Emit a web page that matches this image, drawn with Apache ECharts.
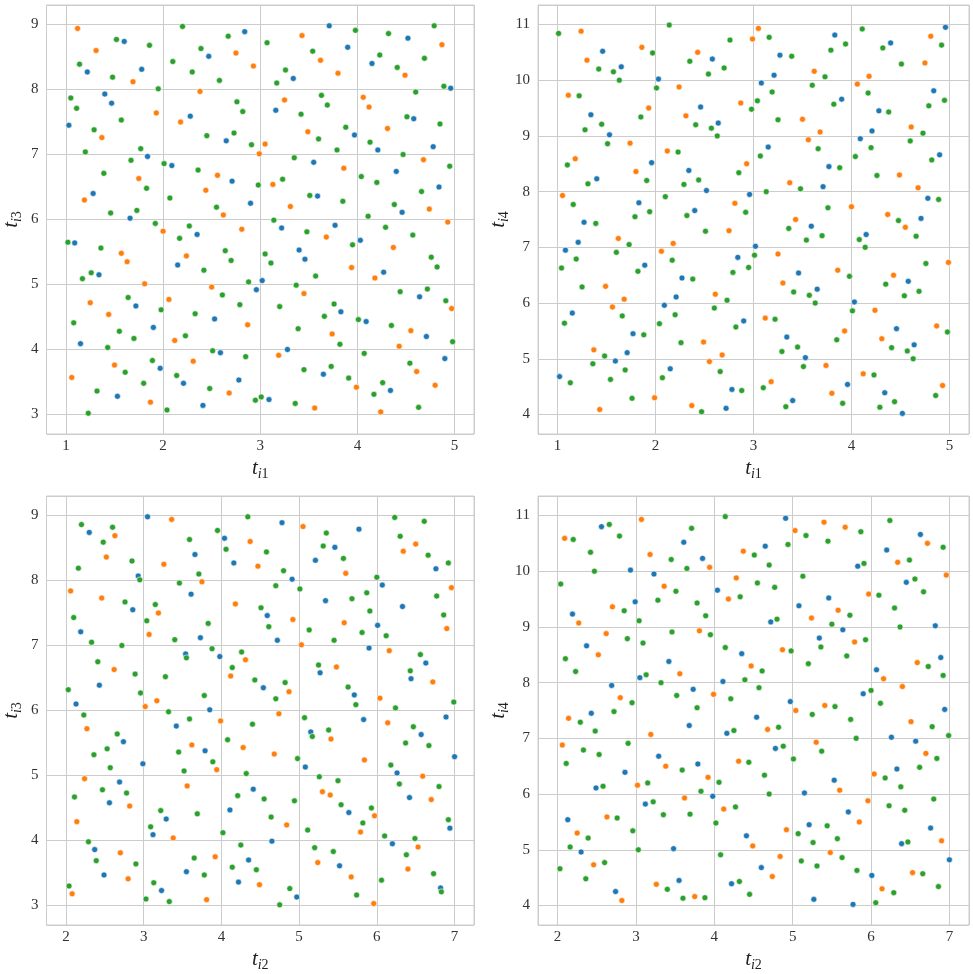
<!DOCTYPE html>
<html>
<head>
<meta charset="utf-8">
<script src="https://cdn.jsdelivr.net/npm/echarts@6/dist/echarts.min.js"></script>
<style>
    html, body { margin: 0; padding: 0; background: #fff; }
    #chart { width: 973px; height: 974px; }
</style>
</head>
<body>
<div id="chart"></div>
<script>
// 各子图的散点数据 (t_i1, t_i2, t_i3, t_i4)，按颜色分组
const p1Blue = [[1.22,8.27],[1.03,7.45],[1.60,8.74],[1.40,7.93],[1.47,7.79],[1.78,8.31],[2.47,8.51],[2.28,7.59],[2.84,8.89],[2.65,7.21],[3.34,8.17],[3.16,7.68],[3.71,8.98],[3.90,8.65],[3.97,7.30],[4.15,8.40],[4.21,7.07],[4.52,8.79],[4.58,7.55],[4.96,8.02],[4.78,7.12],
    [1.84,6.97],[1.28,6.40],[1.66,6.02],[1.09,5.64],[1.34,5.15],[1.72,4.67],[2.09,6.83],[2.35,5.77],[2.15,5.30],[2.71,6.59],[2.90,6.25],[2.96,4.92],[3.02,5.06],[3.55,6.88],[3.22,5.87],[3.40,5.53],[3.46,5.39],[3.59,6.36],[3.77,5.91],[4.03,5.68],[4.27,5.19],[4.40,6.74],[4.46,6.11],[4.84,6.50],[4.64,4.81],
    [1.15,4.09],[1.53,3.28],[1.90,4.34],[1.97,3.71],[2.53,4.47],[2.21,3.48],[2.41,3.14],[2.59,3.95],[2.78,3.53],[3.09,3.23],[3.28,4.00],[3.83,4.58],[3.65,3.62],[4.09,4.43],[4.34,3.37],[4.71,4.20],[4.90,3.86]];
const p1Orange = [[1.12,8.94],[1.31,8.60],[1.37,7.26],[1.69,8.12],[1.93,7.64],[2.38,7.97],[2.18,7.50],[2.75,8.56],[2.93,8.36],[2.99,7.01],[3.05,7.16],[3.25,7.84],[3.43,8.83],[3.62,8.45],[3.49,7.35],[3.80,8.25],[4.06,7.88],[4.12,7.73],[4.31,7.40],[4.49,8.22],[4.87,8.69],
    [1.75,6.63],[1.19,6.30],[1.57,5.48],[1.63,5.35],[1.81,5.01],[1.25,4.72],[2.00,5.82],[2.24,5.44],[2.06,4.77],[2.44,6.45],[2.56,6.68],[2.62,6.07],[2.50,4.96],[2.81,5.85],[3.13,6.54],[3.31,6.20],[3.45,4.86],[3.86,6.79],[3.68,5.73],[3.94,5.26],[4.18,5.10],[4.68,6.92],[4.37,5.57],[4.74,6.16],[4.93,5.96],[4.97,4.63],
    [1.44,4.54],[1.06,3.57],[1.50,3.76],[1.87,3.19],[2.12,4.14],[2.31,3.82],[2.68,3.33],[2.87,4.38],[3.19,3.91],[3.56,3.10],[3.74,4.24],[3.99,3.42],[4.24,3.04],[4.43,4.05],[4.55,4.29],[4.61,3.66],[4.80,3.45]];
const p1Green = [[1.14,8.39],[1.05,7.87],[1.11,7.71],[1.20,7.04],[1.29,7.38],[1.52,8.77],[1.48,8.19],[1.57,7.53],[1.86,8.68],[1.95,8.01],[1.77,7.09],[2.20,8.97],[2.10,8.43],[2.30,8.27],[2.39,8.63],[2.45,7.29],[2.58,8.14],[2.67,8.82],[2.76,7.81],[2.82,7.66],[2.73,7.33],[2.91,7.15],[3.07,8.72],[3.17,8.10],[3.26,8.30],[3.54,8.59],[3.42,7.62],[3.60,7.24],[3.63,7.91],[3.69,7.76],[3.98,8.91],[3.79,7.07],[3.88,7.42],[4.23,8.53],[4.32,8.86],[4.13,7.19],[4.41,8.34],[4.60,7.96],[4.51,7.58],[4.47,7.00],[4.69,8.48],[4.79,8.98],[4.89,8.05],[4.85,7.47],
    [1.67,6.91],[1.39,6.71],[1.83,6.48],[1.46,6.10],[1.73,6.14],[1.92,5.94],[1.02,5.65],[1.36,5.56],[1.26,5.18],[1.17,5.09],[1.64,4.80],[1.98,4.61],[2.01,6.86],[2.07,6.33],[2.17,5.71],[2.27,5.90],[2.42,5.22],[2.36,6.76],[2.55,6.19],[2.64,5.52],[2.70,5.37],[2.61,4.84],[2.79,4.69],[2.88,5.04],[2.98,6.53],[3.35,6.95],[3.23,6.62],[3.14,5.99],[3.05,5.47],[3.11,5.33],[3.37,4.99],[3.20,4.66],[3.51,6.37],[3.48,5.81],[3.57,5.13],[3.85,6.28],[3.95,5.61],[3.76,4.70],[4.04,6.66],[4.20,6.57],[4.11,6.05],[4.29,5.88],[4.38,6.23],[4.57,5.76],[4.66,6.43],[4.95,6.82],[4.76,5.42],[4.82,5.27],[4.44,4.89],[4.72,4.93],[4.91,4.75],
    [1.08,4.41],[1.55,4.28],[1.43,4.03],[1.70,4.17],[1.32,3.36],[1.23,3.02],[1.61,3.65],[1.80,3.48],[1.89,3.83],[2.23,4.21],[2.33,4.55],[2.14,3.60],[2.04,3.07],[2.48,3.40],[2.51,3.98],[2.85,3.89],[2.95,3.22],[3.01,3.27],[3.39,4.32],[3.45,3.69],[3.36,3.17],[3.66,4.51],[3.82,4.08],[3.73,3.74],[3.91,3.56],[4.01,4.46],[4.07,3.94],[4.17,3.31],[4.26,3.49],[4.35,4.37],[4.54,3.79],[4.63,3.11],[4.98,4.12]];

const p2Blue = [[1.34,9.38],[1.46,10.52],[1.65,10.24],[1.53,9.02],[2.03,10.02],[2.58,10.38],[2.46,9.52],[2.64,9.23],[3.08,9.95],[3.21,10.09],[3.27,10.45],[3.15,8.80],[3.83,10.81],[3.90,9.66],[4.28,9.45],[4.09,8.95],[4.21,9.09],[4.40,10.67],[4.96,10.95],[4.84,9.81],[4.90,8.66],
    [1.27,7.45],[1.21,7.09],[1.08,6.95],[1.40,8.23],[1.96,8.52],[1.83,7.80],[1.89,6.68],[2.27,6.45],[2.21,6.11],[2.09,5.96],[2.34,8.38],[2.40,7.66],[2.52,8.02],[2.96,7.95],[2.84,6.82],[3.02,7.02],[3.59,7.38],[3.46,6.54],[3.65,6.25],[3.71,8.09],[3.77,8.45],[4.15,7.23],[4.03,6.02],[4.58,6.39],[4.71,7.52],[4.78,7.88],
    [1.15,5.82],[1.77,5.45],[1.71,5.11],[1.59,4.96],[1.02,4.68],[2.15,4.82],[2.78,4.45],[2.72,4.11],[2.90,5.68],[3.34,5.39],[3.53,5.02],[3.40,4.25],[3.96,4.54],[4.46,5.54],[4.64,5.25],[4.34,4.39],[4.52,4.02]];
const p2Orange = [[1.24,10.88],[1.30,10.36],[1.11,9.73],[1.74,8.87],[1.86,10.59],[1.93,9.50],[2.24,9.88],[2.31,9.36],[2.12,8.73],[2.43,10.50],[2.87,9.59],[2.99,10.74],[3.05,10.93],[3.50,9.30],[3.56,8.93],[3.62,10.16],[3.68,9.07],[4.06,9.93],[4.18,10.07],[4.61,9.16],[4.75,10.31],[4.81,10.79],
    [1.18,8.59],[1.05,7.93],[1.49,6.30],[1.56,5.93],[1.80,8.36],[1.62,7.16],[1.68,6.07],[2.06,6.93],[2.18,7.07],[2.61,6.16],[2.75,7.30],[2.81,7.79],[2.93,8.50],[3.25,6.88],[3.30,6.36],[3.37,8.16],[3.43,7.50],[3.86,6.59],[4.00,7.73],[4.24,5.87],[4.49,8.30],[4.37,7.59],[4.55,7.36],[4.43,6.50],[4.68,8.07],[4.99,6.73],
    [1.37,5.16],[1.43,4.09],[1.99,4.30],[2.37,4.16],[2.49,5.30],[2.55,4.95],[2.68,5.07],[3.12,5.73],[3.18,4.59],[3.74,4.88],[3.80,4.38],[3.93,5.50],[4.31,5.36],[4.12,4.73],[4.87,5.59],[4.93,4.52]];
const p2Green = [[1.01,10.84],[1.22,9.72],[1.28,9.11],[1.42,10.20],[1.57,10.15],[1.63,10.00],[1.45,9.21],[1.51,8.86],[1.97,10.49],[1.85,9.34],[2.01,9.86],[2.14,10.99],[2.41,9.20],[2.23,8.71],[2.35,10.34],[2.54,10.11],[2.70,10.22],[2.57,9.14],[2.63,9.00],[2.76,10.72],[2.98,9.48],[3.16,10.77],[3.04,9.63],[3.19,9.79],[3.39,10.43],[3.25,9.29],[3.07,8.64],[3.60,9.91],[3.73,10.06],[3.66,8.77],[3.79,10.54],[3.94,10.65],[3.82,9.57],[4.11,10.92],[4.17,9.77],[4.38,9.43],[4.20,8.79],[4.32,10.58],[4.51,10.29],[4.60,8.91],[4.73,9.05],[4.92,10.63],[4.79,9.54],[4.95,9.64],
    [1.10,8.48],[1.16,7.77],[1.19,6.79],[1.04,6.63],[1.25,6.29],[1.31,8.14],[1.39,7.43],[1.91,8.20],[1.79,7.55],[1.94,7.64],[1.73,7.05],[1.60,6.91],[1.82,6.57],[2.10,7.91],[2.17,6.77],[2.38,6.43],[2.29,8.13],[2.44,8.21],[2.32,7.57],[2.51,7.29],[2.60,5.91],[2.73,6.05],[2.85,8.34],[2.92,7.63],[2.79,6.55],[2.95,6.64],[3.01,6.86],[3.13,8.00],[3.48,8.05],[3.36,7.34],[3.54,7.13],[3.41,6.20],[3.57,6.14],[3.63,6.00],[3.70,7.21],[3.76,7.71],[3.88,8.43],[3.98,6.48],[4.04,8.63],[4.08,7.14],[4.14,7.00],[4.26,8.29],[4.48,7.48],[4.35,6.34],[4.54,6.13],[4.69,6.21],[4.66,7.20],[4.89,7.86],[4.76,6.71],[4.82,8.57],
    [1.07,5.64],[1.66,5.77],[1.88,5.43],[1.48,5.05],[1.36,4.91],[1.69,4.80],[1.13,4.57],[1.54,4.63],[1.76,4.29],[2.04,5.63],[2.20,5.79],[2.26,5.29],[2.07,4.66],[2.47,4.05],[2.66,4.77],[2.88,4.43],[2.82,5.57],[3.22,5.71],[3.29,5.13],[3.45,5.21],[3.51,4.86],[3.10,4.48],[3.33,4.14],[3.91,4.20],[3.85,5.34],[4.01,5.86],[4.41,5.20],[4.57,5.14],[4.63,5.00],[4.23,4.71],[4.44,4.23],[4.29,4.13],[4.98,5.48],[4.86,4.34]];

const p3Blue = [[2.19,7.21],[2.30,8.74],[2.86,7.55],[2.93,8.07],[3.05,8.98],[3.66,8.40],[3.61,7.79],[3.73,7.12],[4.04,8.65],[4.16,8.27],[4.59,7.46],[4.72,7.08],[4.78,8.89],[4.91,8.02],[5.21,8.31],[5.46,8.51],[5.34,7.69],[5.77,8.79],[6.07,7.93],[6.01,7.31],[6.33,7.60],[6.76,8.18],
    [2.13,6.10],[2.43,6.39],[2.74,5.52],[2.99,5.18],[2.69,4.90],[3.54,6.87],[3.42,5.76],[3.85,6.01],[3.98,6.83],[3.79,5.38],[4.54,6.35],[4.41,4.79],[5.15,5.67],[5.08,5.13],[5.27,6.58],[5.71,6.24],[5.83,5.86],[5.90,6.96],[6.44,6.49],[6.63,6.73],[6.57,5.63],[6.89,5.90],[7.00,5.29],[6.26,5.04],[6.42,4.66],
    [2.56,4.58],[2.37,3.86],[2.49,3.47],[3.12,4.09],[3.29,4.33],[3.55,3.52],[3.23,3.23],[4.11,4.47],[4.35,3.70],[4.22,3.36],[4.65,3.99],[4.97,3.13],[5.52,3.61],[5.64,4.43],[6.20,3.95],[6.82,3.27],[6.94,4.19]];
const p3Orange = [[2.06,7.84],[2.63,8.69],[2.52,8.36],[2.46,7.73],[3.07,7.17],[3.19,7.50],[3.26,8.25],[3.36,8.94],[3.75,7.98],[4.18,7.64],[4.37,8.60],[4.47,8.22],[4.92,7.40],[5.05,8.83],[5.60,8.11],[5.58,7.35],[6.34,8.45],[6.50,8.56],[6.96,7.89],[6.90,7.26],
    [2.27,5.72],[2.62,6.63],[3.02,6.06],[2.24,4.95],[3.17,6.15],[3.62,5.47],[3.94,5.09],[3.56,4.84],[3.99,5.84],[4.12,6.53],[4.31,6.78],[4.28,5.43],[4.87,6.29],[4.74,5.95],[4.68,5.33],[5.03,7.01],[5.48,6.67],[5.41,5.56],[5.30,4.75],[5.40,4.70],[5.84,5.24],[6.16,6.92],[6.04,6.19],[6.14,5.81],[6.72,6.44],[6.59,4.99],
    [2.82,4.53],[2.14,4.29],[2.70,3.81],[2.80,3.41],[2.08,3.18],[3.38,4.04],[3.92,3.75],[3.81,3.09],[4.49,3.32],[4.84,4.24],[5.24,3.66],[5.67,3.44],[5.79,4.13],[5.97,4.38],[5.96,3.03],[6.70,4.63],[6.53,3.90],[6.40,3.56]];
const p3Green = [[2.10,7.43],[2.33,7.05],[2.16,8.19],[2.20,8.86],[2.48,8.59],[2.60,8.82],[2.76,7.67],[2.85,8.30],[2.95,8.01],[3.04,7.38],[3.15,7.63],[3.40,7.09],[3.46,7.96],[3.59,8.63],[3.71,8.10],[3.83,7.34],[3.95,8.77],[4.06,8.48],[4.34,8.98],[4.58,8.44],[4.51,7.58],[4.61,7.29],[4.80,8.15],[4.70,7.92],[5.01,7.87],[5.13,7.24],[5.31,8.53],[5.35,8.73],[5.57,8.34],[5.68,7.72],[5.45,7.08],[5.87,7.81],[5.91,7.53],[5.81,7.20],[6.00,8.05],[6.12,7.15],[6.23,8.97],[6.30,8.68],[6.61,8.91],[6.66,8.39],[6.92,8.27],[6.77,7.76],[6.86,7.47],
    [2.72,7.00],[2.03,6.32],[2.23,5.93],[2.41,6.75],[2.89,6.56],[2.96,6.27],[2.36,5.32],[2.53,5.41],[2.66,5.64],[2.57,5.12],[2.11,4.67],[2.47,4.78],[2.78,4.73],[3.55,6.81],[3.28,6.52],[3.32,5.98],[3.59,5.87],[3.78,6.23],[3.88,6.95],[3.45,5.36],[3.52,5.07],[3.89,5.21],[4.08,5.55],[4.14,6.66],[4.26,6.90],[4.43,6.47],[4.40,5.79],[4.32,5.03],[4.21,4.69],[4.55,4.64],[4.70,6.18],[4.82,6.43],[4.98,5.26],[5.07,5.89],[5.17,5.60],[5.26,4.98],[5.25,6.70],[5.38,5.70],[5.50,4.92],[5.63,6.36],[5.73,6.09],[6.24,6.04],[6.43,6.61],[6.56,6.86],[6.47,5.75],[6.37,5.50],[6.67,5.46],[6.99,6.13],[6.18,5.16],[6.29,4.87],[6.80,4.83],
    [2.29,3.98],[2.39,3.69],[2.90,3.64],[2.04,3.30],[3.09,4.21],[3.22,4.46],[3.69,4.41],[3.65,3.73],[3.78,3.47],[3.13,3.35],[3.03,3.10],[3.33,3.06],[4.02,4.12],[4.25,3.93],[4.14,3.59],[4.45,3.55],[4.64,4.36],[4.94,4.61],[4.88,3.26],[4.75,3.01],[5.11,4.16],[5.20,3.89],[5.44,3.83],[5.74,3.16],[5.54,4.55],[5.82,4.27],[5.93,4.50],[6.10,4.07],[6.06,3.39],[6.38,3.78],[6.49,4.03],[6.73,3.49],[6.83,3.21],[6.92,4.32]];

const p4Blue = [[2.19,9.23],[2.56,10.80],[2.93,10.02],[2.99,9.45],[3.23,9.95],[3.61,10.52],[3.85,10.23],[4.04,9.66],[4.65,10.45],[4.72,9.09],[4.91,10.95],[5.08,9.38],[5.46,9.52],[5.64,8.95],[5.34,8.80],[5.83,10.09],[6.20,10.38],[6.45,9.80],[6.63,10.66],[6.82,9.02],
    [2.37,8.66],[2.69,7.95],[2.43,7.45],[2.86,6.39],[2.49,6.11],[3.05,8.09],[3.42,8.38],[3.73,7.88],[3.68,7.23],[3.29,6.68],[3.79,6.54],[3.98,5.96],[4.11,8.02],[4.35,8.52],[4.54,7.38],[4.16,7.09],[4.78,6.82],[4.97,7.66],[5.15,6.02],[5.53,6.25],[5.90,7.80],[6.07,8.23],[6.26,7.02],[6.33,6.45],[6.89,8.45],[6.94,7.52],[6.57,6.95],
    [3.12,5.82],[2.13,5.54],[2.30,4.96],[2.74,4.25],[3.48,5.02],[3.55,4.45],[4.41,5.25],[4.60,4.68],[4.22,4.39],[5.21,5.45],[5.71,5.68],[6.01,4.54],[5.27,4.11],[5.77,4.02],[6.39,5.11],[6.76,5.39],[7.00,4.82]];
const p4Orange = [[2.09,10.59],[2.27,9.07],[2.70,9.36],[2.62,8.88],[3.07,10.93],[3.18,10.30],[3.36,9.73],[3.94,10.07],[3.81,8.93],[4.18,9.50],[4.28,9.88],[4.37,10.36],[5.03,10.73],[5.24,9.16],[5.40,10.88],[5.67,10.79],[5.58,9.30],[5.79,8.73],[5.97,9.59],[6.34,10.16],[6.72,10.50],[6.96,9.93],
    [2.52,8.50],[2.80,7.73],[2.14,7.36],[2.06,6.88],[3.02,6.16],[3.56,8.16],[3.19,7.07],[3.38,6.50],[3.92,6.30],[3.62,5.93],[3.99,7.79],[4.47,8.30],[4.68,7.16],[4.31,6.59],[4.87,8.59],[5.04,7.50],[5.41,7.59],[5.30,6.93],[5.60,6.07],[6.16,8.07],[6.40,7.93],[6.04,6.36],[6.59,8.36],[6.51,7.30],[6.70,6.73],
    [4.12,5.73],[2.63,5.59],[2.25,5.30],[2.46,4.73],[2.82,4.09],[3.26,4.38],[3.75,4.16],[4.49,5.07],[4.74,4.52],[4.84,4.88],[4.92,5.36],[5.48,4.95],[5.85,5.50],[5.96,5.88],[6.14,4.30],[6.90,5.16],[6.53,4.59]];
const p4Green = [[2.20,10.57],[2.04,9.77],[2.42,10.34],[2.47,10.00],[2.66,10.84],[2.79,10.63],[2.85,9.29],[2.89,8.79],[3.04,9.11],[3.09,8.71],[3.28,9.48],[3.45,10.21],[3.51,9.64],[3.46,8.91],[3.71,10.77],[3.65,10.05],[3.78,9.43],[3.89,9.20],[3.95,8.86],[4.14,10.98],[4.33,9.54],[4.51,10.29],[4.70,10.11],[4.55,9.79],[4.77,9.71],[4.80,9.14],[4.94,10.48],[5.17,10.64],[5.13,9.91],[5.45,10.54],[5.73,9.21],[5.50,9.05],[5.93,8.77],[5.87,10.71],[5.91,10.14],[6.10,9.57],[6.24,10.91],[6.49,10.20],[6.56,9.86],[6.30,9.34],[6.37,9.00],[6.67,9.63],[6.92,10.43],
    [2.10,8.43],[2.23,8.20],[2.72,7.48],[2.95,7.64],[2.29,7.29],[2.48,7.13],[2.11,6.55],[2.33,6.79],[2.53,6.71],[2.90,6.91],[2.58,6.14],[3.13,8.14],[3.32,8.00],[3.52,7.77],[3.78,7.55],[3.59,6.43],[3.83,6.05],[3.15,6.20],[4.21,7.71],[4.14,8.63],[4.39,8.05],[4.61,8.21],[4.57,7.91],[4.82,7.20],[4.25,7.14],[4.44,6.57],[4.64,6.34],[4.70,6.00],[4.06,6.21],[4.88,6.86],[4.98,8.57],[5.01,6.63],[5.20,8.34],[5.36,8.64],[5.25,7.43],[5.54,7.57],[5.37,6.77],[5.69,8.48],[5.74,7.34],[5.81,7.00],[6.00,7.86],[6.12,7.63],[6.18,6.29],[6.38,6.13],[6.73,8.29],[6.92,8.13],[6.78,7.21],[6.99,7.05],[6.62,6.48],[6.84,6.64],
    [3.22,5.86],[3.35,5.63],[3.69,5.64],[4.27,5.77],[4.02,5.48],[2.76,5.57],[2.39,5.21],[2.16,5.05],[2.96,5.34],[3.03,5.00],[2.03,4.66],[2.60,4.77],[2.36,4.48],[3.40,4.29],[3.60,4.13],[3.88,4.14],[4.08,4.91],[4.32,4.43],[4.45,4.20],[5.07,5.29],[5.26,5.13],[5.11,4.80],[5.31,4.71],[5.44,5.43],[5.57,5.20],[5.63,4.86],[5.82,4.63],[6.06,4.05],[6.29,4.23],[6.23,5.79],[6.43,5.71],[6.47,5.14],[6.80,5.91],[6.66,4.57],[6.86,4.34]];

// 坐标轴名称 (下标) 与范围
const xNames = ['i1', 'i1', 'i2', 'i2'];
const yNames = ['i3', 'i4', 'i3', 'i4'];
const xRanges = [[0.8, 5.2], [0.8, 5.2], [1.75, 7.25], [1.75, 7.25]];
const yRanges = [[2.7, 9.3], [3.65, 11.35], [2.7, 9.3], [3.65, 11.35]];

const COLORS = ['#1f77b4', '#ff7f0e', '#2ca02c'];
const GRID_COLOR = '#cccccc';
const FONT = 'Liberation Serif, DejaVu Serif, serif';

const panels = [
    [p1Blue, p1Orange, p1Green],
    [p2Blue, p2Orange, p2Green],
    [p3Blue, p3Orange, p3Green],
    [p4Blue, p4Orange, p4Green]
];

// 子图位置 (像素)
const grids = [
    { left: 42, top: 5, width: 432, height: 429 },
    { left: 538, top: 5, width: 431, height: 429 },
    { left: 42, top: 496, width: 432, height: 429 },
    { left: 538, top: 496, width: 431, height: 429 }
];

function axisName(sub) {
    return '{t|t}{si|' + sub[0] + '}{sn|' + sub.slice(1) + '}';
}

const nameRich = {
    t: { fontFamily: FONT, fontStyle: 'italic', fontSize: 21, color: '#222', lineHeight: 26, verticalAlign: 'middle' },
    si: { fontFamily: FONT, fontStyle: 'italic', fontSize: 14, color: '#222', lineHeight: 26, verticalAlign: 'bottom' },
    sn: { fontFamily: FONT, fontSize: 14, color: '#222', lineHeight: 26, verticalAlign: 'bottom' }
};

function intLabel(v) {
    return Math.abs(v - Math.round(v)) < 1e-6 ? String(Math.round(v)) : '';
}

function makeAxis(range, sub, isX, idx) {
    return {
        type: 'value',
        gridIndex: idx,
        min: range[0],
        max: range[1],
        minInterval: 1,
        maxInterval: 1,
        splitNumber: 7,
        name: axisName(sub),
        nameLocation: 'middle',
        nameGap: isX ? 21 : 22,
        nameRotate: isX ? 0 : 90,
        nameTextStyle: { rich: nameRich },
        axisLine: { show: false },
        axisTick: { show: false },
        axisLabel: {
            fontFamily: FONT,
            fontSize: 15,
            color: '#333',
            margin: isX ? 5 : 8,
            formatter: intLabel
        },
        splitLine: { show: true, lineStyle: { color: GRID_COLOR, width: 1 } }
    };
}

const chart = echarts.init(document.getElementById('chart'), null, { renderer: 'canvas' });

const series = [];
panels.forEach((groups, p) => {
    groups.forEach((pts, c) => {
        series.push({
            type: 'scatter',
            xAxisIndex: p,
            yAxisIndex: p,
            data: pts,
            symbolSize: 6,
            itemStyle: { color: COLORS[c], borderColor: '#ffffff', borderWidth: 0.6, opacity: 1 }
        });
    });
});

const option = {
    animation: false,
    backgroundColor: '#ffffff',
    grid: grids.map(g => Object.assign({ show: true, borderColor: GRID_COLOR, borderWidth: 1, containLabel: false }, g)),
    xAxis: xRanges.map((r, i) => makeAxis(r, xNames[i], true, i)),
    yAxis: yRanges.map((r, i) => makeAxis(r, yNames[i], false, i)),
    series: series
};

chart.setOption(option);
</script>
</body>
</html>
